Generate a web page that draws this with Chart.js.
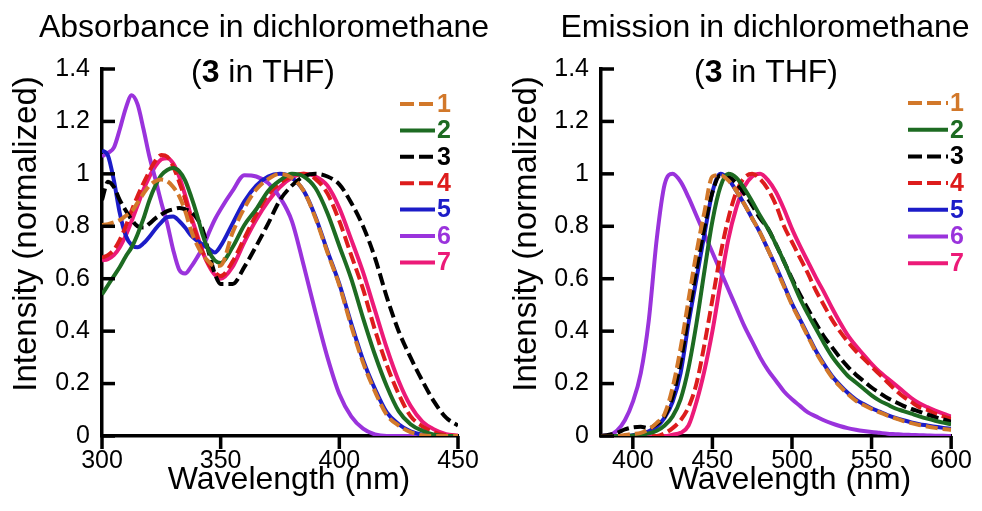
<!DOCTYPE html>
<html>
<head>
<meta charset="utf-8">
<script src="https://cdn.jsdelivr.net/npm/chart.js@4.4.0/dist/chart.umd.min.js"></script>
<style>
  html, body { margin: 0; padding: 0; background: #fff; }
  #wrap { display: flex; width: 982px; height: 511px; }
  canvas { display: block; }
</style>
</head>
<body>
<div id="wrap">
  <canvas id="abs" width="491" height="511"></canvas>
  <canvas id="em" width="491" height="511"></canvas>
</div>
<script>
// Absorbance / emission spectra of compounds 1-7 (normalized)

const seriesNames = ["1", "2", "3", "4", "5", "6", "7"];
const seriesColors = ["#d2782a", "#1d6b22", "#000000", "#dd1c1c", "#1c1cc8", "#9a33dc", "#ec1a78"];
const seriesDashed = [true, false, true, true, false, false, false];

// absorbance, wavelength grid (nm)
const absWavelength = [300, 302.5, 305, 307.5, 310, 312.5, 315, 317.5, 320, 322.5, 325, 327.5, 330, 332.5, 335, 337.5, 340, 342.5, 345, 347.5, 350,
  355, 360, 365, 370, 375, 380, 385, 390, 395, 400, 405, 410, 415, 420, 425, 430, 435, 440, 445, 450];

const abs1 = [0.805, 0.808, 0.815, 0.824, 0.84, 0.857, 0.89, 0.925, 0.955, 0.972, 0.978, 0.972, 0.95, 0.915, 0.86, 0.785, 0.73, 0.69, 0.665, 0.648, 0.65,
  0.775, 0.87, 0.94, 0.98, 1.0, 0.985, 0.935, 0.83, 0.70, 0.575, 0.42, 0.28, 0.17, 0.08, 0.04, 0.015, 0.003, 0, 0, 0];
const abs2 = [0.54, 0.575, 0.61, 0.645, 0.685, 0.72, 0.77, 0.83, 0.9, 0.955, 0.995, 1.015, 1.022, 1.01, 0.975, 0.915, 0.845, 0.765, 0.705, 0.67, 0.66,
  0.72, 0.805, 0.865, 0.935, 0.975, 1.0, 0.99, 0.945, 0.85, 0.725, 0.60, 0.45, 0.31, 0.19, 0.095, 0.045, 0.02, 0.005, 0, 0];
const abs3 = [0.90, 0.97, 0.95, 0.90, 0.86, 0.825, 0.80, 0.795, 0.81, 0.83, 0.845, 0.858, 0.865, 0.87, 0.865, 0.855, 0.83, 0.785, 0.70, 0.62, 0.58,
  0.58, 0.645, 0.725, 0.81, 0.90, 0.955, 0.99, 1.0, 0.99, 0.96, 0.89, 0.80, 0.68, 0.53, 0.40, 0.30, 0.21, 0.13, 0.07, 0.04];
const abs4 = [0.68, 0.69, 0.71, 0.748, 0.80, 0.86, 0.915, 0.965, 1.01, 1.05, 1.072, 1.065, 1.028, 0.97, 0.905, 0.83, 0.76, 0.70, 0.655, 0.625, 0.61,
  0.665, 0.755, 0.845, 0.92, 0.965, 0.99, 1.0, 0.98, 0.925, 0.82, 0.69, 0.56, 0.405, 0.27, 0.16, 0.076, 0.037, 0.014, 0.003, 0];
const abs5 = [1.09, 1.07, 0.975, 0.85, 0.765, 0.728, 0.72, 0.735, 0.76, 0.79, 0.815, 0.835, 0.837, 0.82, 0.795, 0.765, 0.745, 0.73, 0.715, 0.70, 0.725,
  0.81, 0.895, 0.955, 0.99, 1.0, 0.985, 0.935, 0.835, 0.705, 0.58, 0.43, 0.29, 0.18, 0.09, 0.045, 0.018, 0.005, 0.001, 0, 0];
const abs6 = [1.066, 1.08, 1.10, 1.17, 1.25, 1.30, 1.265, 1.17, 1.065, 0.98, 0.89, 0.81, 0.71, 0.635, 0.62, 0.645, 0.68, 0.72, 0.775, 0.825, 0.865,
  0.935, 0.995, 0.99, 0.965, 0.91, 0.82, 0.65, 0.47, 0.30, 0.16, 0.075, 0.028, 0.006, 0, 0, 0, 0, 0, 0, 0];
const abs7 = [0.67, 0.675, 0.69, 0.72, 0.765, 0.82, 0.88, 0.94, 0.99, 1.03, 1.055, 1.06, 1.04, 0.99, 0.92, 0.84, 0.77, 0.70, 0.65, 0.615, 0.60,
  0.645, 0.74, 0.825, 0.895, 0.95, 0.985, 1.0, 0.99, 0.955, 0.87, 0.75, 0.625, 0.48, 0.335, 0.21, 0.115, 0.055, 0.025, 0.007, 0.002];

// emission, wavelength grid (nm)
const emWavelength = [380, 385, 390, 395, 400, 405, 410, 415, 420, 425, 430, 435, 440, 445, 450, 455, 460, 465, 470, 475, 480, 485, 490, 495, 500,
  505, 510, 515, 520, 525, 530, 535, 540, 545, 550, 555, 560, 565, 570, 575, 580, 585, 590, 595, 600];

const em1 = [0, 0, 0, 0.004, 0.008, 0.012, 0.025, 0.05, 0.085, 0.185, 0.335, 0.52, 0.70, 0.855, 0.99, 0.995, 0.975, 0.935, 0.885, 0.83, 0.775, 0.71, 0.64, 0.57, 0.50,
  0.44, 0.38, 0.32, 0.27, 0.225, 0.19, 0.16, 0.135, 0.118, 0.103, 0.09, 0.078, 0.067, 0.057, 0.049, 0.042, 0.036, 0.031, 0.027, 0.024];
const em2 = [0, 0, 0, 0, 0.002, 0.005, 0.01, 0.02, 0.04, 0.075, 0.14, 0.26, 0.43, 0.63, 0.82, 0.95, 1.0, 0.985, 0.945, 0.895, 0.84, 0.79, 0.73, 0.665, 0.595,
  0.525, 0.465, 0.41, 0.355, 0.305, 0.265, 0.23, 0.205, 0.18, 0.155, 0.135, 0.12, 0.105, 0.095, 0.085, 0.075, 0.066, 0.058, 0.051, 0.045];
const em3 = [0, 0.005, 0.012, 0.025, 0.033, 0.035, 0.03, 0.045, 0.075, 0.15, 0.28, 0.46, 0.635, 0.795, 0.93, 0.995, 0.99, 0.965, 0.925, 0.88, 0.83, 0.79, 0.73, 0.665, 0.60,
  0.54, 0.485, 0.43, 0.38, 0.34, 0.30, 0.265, 0.235, 0.21, 0.185, 0.165, 0.145, 0.13, 0.115, 0.103, 0.093, 0.082, 0.072, 0.063, 0.055];
const em4 = [0, 0, 0, 0, 0, 0, 0, 0, 0.01, 0.03, 0.06, 0.11, 0.2, 0.35, 0.52, 0.69, 0.83, 0.93, 0.985, 1.0, 0.98, 0.94, 0.88, 0.80, 0.74,
  0.68, 0.62, 0.555, 0.50, 0.445, 0.40, 0.36, 0.325, 0.295, 0.265, 0.235, 0.205, 0.175, 0.15, 0.13, 0.11, 0.10, 0.085, 0.075, 0.065];
const em5 = [0, 0, 0, 0, 0.003, 0.008, 0.018, 0.035, 0.07, 0.13, 0.24, 0.43, 0.60, 0.77, 0.93, 1.0, 0.98, 0.935, 0.885, 0.83, 0.775, 0.71, 0.645, 0.575, 0.505,
  0.445, 0.385, 0.325, 0.275, 0.23, 0.195, 0.165, 0.14, 0.122, 0.106, 0.093, 0.08, 0.069, 0.06, 0.052, 0.045, 0.04, 0.035, 0.031, 0.028];
const em6 = [0, 0.003, 0.02, 0.06, 0.13, 0.24, 0.44, 0.75, 0.96, 1.0, 0.97, 0.91, 0.84, 0.77, 0.70, 0.63, 0.56, 0.49, 0.42, 0.36, 0.30, 0.25, 0.21, 0.17, 0.14,
  0.115, 0.09, 0.075, 0.06, 0.048, 0.038, 0.03, 0.024, 0.019, 0.015, 0.012, 0.009, 0.007, 0.005, 0.004, 0.003, 0.002, 0.001, 0.001, 0];
const em7 = [0, 0, 0, 0, 0, 0, 0, 0, 0, 0.005, 0.012, 0.04, 0.13, 0.25, 0.40, 0.58, 0.75, 0.87, 0.95, 0.99, 1.0, 0.975, 0.93, 0.865, 0.79,
  0.725, 0.665, 0.605, 0.55, 0.49, 0.435, 0.385, 0.345, 0.31, 0.275, 0.245, 0.22, 0.195, 0.17, 0.145, 0.125, 0.11, 0.097, 0.085, 0.074];

const yTicksStep = 0.2;
const absSeries = [abs1, abs2, abs3, abs4, abs5, abs6, abs7];
const emSeries = [em1, em2, em3, em4, em5, em6, em7];

const FONT = "'Liberation Sans', Arial, sans-serif";
Chart.defaults.font.family = FONT;
Chart.defaults.color = "#000";

function makeDatasets(xs, series) {
  return series.map((ys, i) => ({
    label: seriesNames[i],
    data: xs.map((x, j) => ({ x: x, y: ys[j] })),
    borderColor: seriesColors[i],
    borderWidth: 4,
    borderDash: seriesDashed[i] ? [12, 5] : [],
    pointRadius: 0,
    cubicInterpolationMode: "monotone",
    fill: false,
  }));
}

// tick marks (y ticks point into the plot, x ticks point down), titles, legend
const figPlugin = {
  id: "figText",
  afterDraw(chart) {
    const o = chart.options.plugins.figText;
    const ctx = chart.ctx;
    const sx = chart.scales.x, sy = chart.scales.y;
    const area = chart.chartArea;

    ctx.save();
    ctx.setLineDash([]);
    ctx.strokeStyle = "#000";
    ctx.fillStyle = "#000";
    sy.getTicks().forEach(t => {
      const ty = sy.getPixelForValue(t.value);
      ctx.fillRect(area.left - 1, ty - 1.75, 14, 3.5);
    });
    sx.getTicks().forEach(t => {
      const tx = sx.getPixelForValue(t.value);
      ctx.fillRect(tx - 1.75, area.bottom, 3.5, 13);
    });

    ctx.textBaseline = "alphabetic";
    ctx.textAlign = "center";
    ctx.font = "32px " + FONT;
    ctx.fillText(o.title, o.titleX, 37);

    // second line with bold "3"
    const parts = [["(", "32px "], ["3", "bold 32px "], [" in THF)", "32px "]];
    let total = 0;
    parts.forEach(p => { ctx.font = p[1] + FONT; total += ctx.measureText(p[0]).width; });
    let px = o.sub1X - total / 2;
    ctx.textAlign = "left";
    parts.forEach(p => {
      ctx.font = p[1] + FONT;
      ctx.fillText(p[0], px, 82);
      px += ctx.measureText(p[0]).width;
    });

    ctx.font = "32px " + FONT;
    ctx.textAlign = "center";
    ctx.fillText("Wavelength (nm)", o.xTitleX, 489);

    ctx.save();
    ctx.translate(o.yTitleX, 234);
    ctx.rotate(-Math.PI / 2);
    ctx.textBaseline = "middle";
    ctx.font = "33px " + FONT;
    ctx.fillText("Intensity (normalized)", 0, 0);
    ctx.restore();

    // legend
    ctx.textAlign = "left";
    ctx.textBaseline = "middle";
    ctx.font = "bold 25px " + FONT;
    chart.data.datasets.forEach((ds, i) => {
      const ly = o.legY + i * o.legDy;
      ctx.beginPath();
      ctx.strokeStyle = ds.borderColor;
      ctx.lineWidth = 4;
      ctx.setLineDash(seriesDashed[i] ? [14, 5] : []);
      ctx.moveTo(o.legX0, ly);
      ctx.lineTo(o.legX1, ly);
      ctx.stroke();
      ctx.fillStyle = ds.borderColor;
      ctx.fillText(ds.label, o.legX1 + 2, ly + 1);
    });
    ctx.restore();
  },
};

function makeChart(id, xs, series, xMin, xMax, yAxisWidth, rightPad, text) {
  return new Chart(document.getElementById(id), {
    type: "line",
    data: { datasets: makeDatasets(xs, series) },
    plugins: [figPlugin],
    options: {
      responsive: false,
      animation: false,
      devicePixelRatio: 1,
      layout: { padding: { top: 69, right: rightPad, left: 0, bottom: 0 } },
      plugins: {
        legend: { display: false },
        tooltip: { enabled: false },
        figText: text,
      },
      scales: {
        x: {
          type: "linear",
          min: xMin,
          max: xMax,
          ticks: { stepSize: 50, includeBounds: false, font: { size: 25 }, padding: 10, maxRotation: 0 },
          grid: { display: false, drawTicks: false, tickLength: 0 },
          border: { color: "#000", width: 3.5 },
          afterFit: (s) => { s.height = 75; },
        },
        y: {
          min: 0,
          max: 1.4,
          ticks: {
            stepSize: yTicksStep,
            font: { size: 25 },
            padding: 12,
            callback: (v) => String(+Number(v).toFixed(2)),
          },
          grid: { display: false, drawTicks: false, tickLength: 0 },
          border: { color: "#000", width: 3.5 },
          afterFit: (s) => { s.width = yAxisWidth; },
        },
      },
    },
  });
}

makeChart("abs", absWavelength, absSeries, 300, 450, 102, 33, {
  title: "Absorbance in dichloromethane", titleX: 264, sub1X: 263,
  xTitleX: 289, yTitleX: 27,
  legX0: 400, legX1: 435, legY: 104, legDy: 26.4,
});

makeChart("em", emWavelength, emSeries, 380, 600, 110, 24, {
  title: "Emission in dichloromethane", titleX: 274, sub1X: 275,
  xTitleX: 299, yTitleX: 36,
  legX0: 417, legX1: 457, legY: 103, legDy: 26.7,
});
</script>
</body>
</html>
